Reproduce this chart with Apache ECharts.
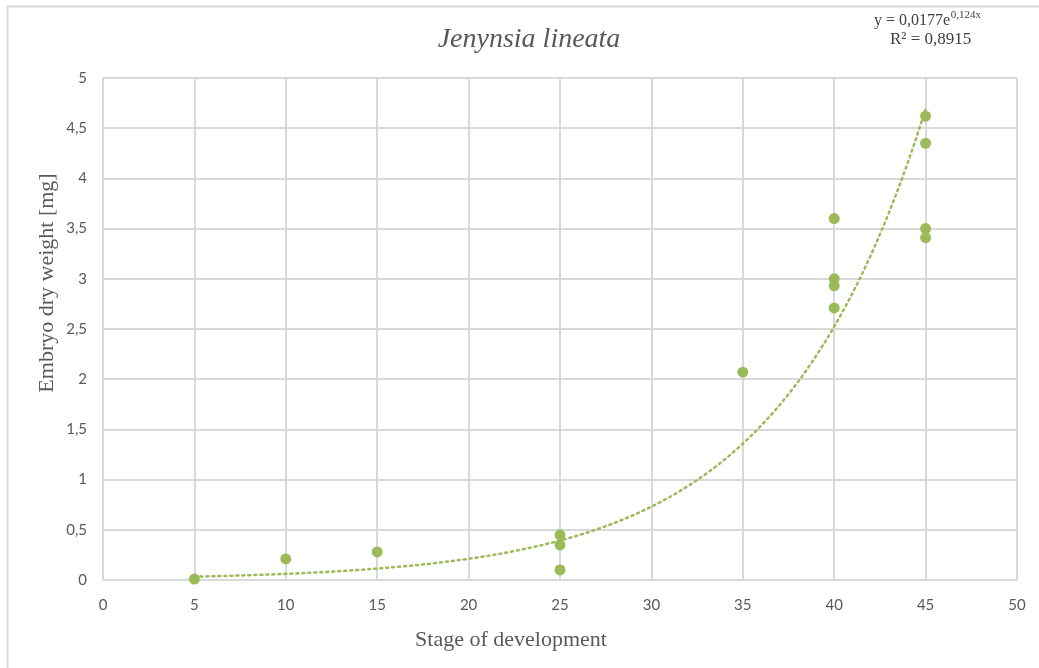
<!DOCTYPE html>
<html>
<head>
<meta charset="utf-8">
<script src="https://cdn.jsdelivr.net/npm/echarts@6/dist/echarts.min.js"></script>
<style>
  html, body { margin: 0; padding: 0; background: #ffffff; }
  #chart { width: 1039px; height: 668px; }
</style>
</head>
<body>
<div id="chart"></div>
<script>
// Measured embryo dry weight by developmental stage
const stages  = [5, 10, 15, 25, 25, 25, 35, 40, 40, 40, 40, 45, 45, 45, 45];
const weights = [0.01, 0.21, 0.28, 0.45, 0.35, 0.10, 2.07, 3.60, 3.00, 2.93, 2.71, 4.62, 4.35, 3.50, 3.41];

// Exponential trendline coefficients: y = a * e^(b x)
const trendA = 0.0177;
const trendB = 0.124;
const trendR2 = 0.8915;
const trendFrom = 5;
const trendTo = 45;

const xTicks = [0, 5, 10, 15, 20, 25, 30, 35, 40, 45, 50];
const yTicks = [0, 0.5, 1, 1.5, 2, 2.5, 3, 3.5, 4, 4.5, 5];

const points = stages.map((s, i) => [s, weights[i]]);
const trend = [];
for (let x = trendFrom; x <= trendTo + 1e-9; x += 0.25) {
  trend.push([x, trendA * Math.exp(trendB * x)]);
}

const comma = v => String(v).replace('.', ',');
const green = '#9bbb59';
const grey = '#595959';
const eqColor = '#404040';
const gridColor = '#d9d9d9';
const serif = 'Liberation Serif';

// width of the equation's base text, so the exponent sits right after it
const eqBase = 'y = ' + comma(trendA) + 'e';
const measure = document.createElement('canvas').getContext('2d');
measure.font = '16px "' + serif + '"';
const eqBaseWidth = measure.measureText(eqBase).width;

const chart = echarts.init(document.getElementById('chart'), null, { renderer: 'canvas' });
chart.setOption({
  animation: false,
  backgroundColor: '#ffffff',
  title: {
    text: 'Jenynsia lineata',
    left: 524,
    top: 21,
    textAlign: 'center',
    textStyle: {
      fontFamily: serif,
      fontStyle: 'italic',
      fontWeight: 'normal',
      fontSize: 28,
      color: grey
    }
  },
  graphic: [
    {
      type: 'rect',
      shape: { x: 7.5, y: 6.5, width: 1100, height: 800 },
      style: { fill: null, stroke: gridColor, lineWidth: 2 },
      silent: true
    },
    {
      type: 'text',
      x: 874,
      y: 13,
      style: { text: eqBase, fontFamily: serif, fontSize: 16, fill: eqColor, verticalAlign: 'top' }
    },
    {
      type: 'text',
      x: 874 + eqBaseWidth + 0.5,
      y: 10,
      style: { text: comma(trendB) + 'x', fontFamily: serif, fontSize: 11, fill: eqColor, verticalAlign: 'top' }
    },
    {
      type: 'text',
      x: 890,
      y: 31,
      style: { text: 'R² = ' + comma(trendR2), fontFamily: serif, fontSize: 17, fill: eqColor, verticalAlign: 'top' }
    },
    {
      type: 'text',
      x: 47,
      y: 283,
      rotation: Math.PI / 2,
      style: {
        text: 'Embryo dry weight [mg]',
        fontFamily: serif, fontSize: 22, fill: grey,
        align: 'center', verticalAlign: 'middle'
      }
    },
    {
      type: 'text',
      x: 511,
      y: 640,
      style: {
        text: 'Stage of development',
        fontFamily: serif, fontSize: 22, fill: grey,
        align: 'center', verticalAlign: 'middle'
      }
    }
  ],
  grid: { left: 103, right: 22, top: 78, bottom: 88, containLabel: false },
  xAxis: {
    type: 'value',
    min: 0, max: 50, interval: 5,
    axisLine: { show: true, lineStyle: { color: gridColor, width: 2 } },
    axisTick: { show: false },
    axisLabel: {
      color: grey, fontFamily: 'Lato', fontSize: 15, margin: 18,
      formatter: v => xTicks.includes(v) ? comma(v) : ''
    },
    splitLine: { show: true, lineStyle: { color: gridColor, width: 2 } }
  },
  yAxis: {
    type: 'value',
    min: 0, max: 5, interval: 0.5,
    axisLine: { show: true, lineStyle: { color: gridColor, width: 2 } },
    axisTick: { show: false },
    axisLabel: {
      color: grey, fontFamily: 'Lato', fontSize: 15, margin: 16,
      formatter: v => yTicks.includes(v) ? comma(v) : ''
    },
    splitLine: { show: true, lineStyle: { color: gridColor, width: 2 } }
  },
  series: [
    {
      type: 'line',
      data: trend,
      showSymbol: false,
      smooth: false,
      lineStyle: { color: green, width: 2.5, type: [2, 4], cap: 'round' },
      z: 2
    },
    {
      type: 'scatter',
      data: points,
      symbol: 'circle',
      symbolSize: 11,
      itemStyle: { color: green, opacity: 1 },
      z: 3
    }
  ]
});
</script>
</body>
</html>
